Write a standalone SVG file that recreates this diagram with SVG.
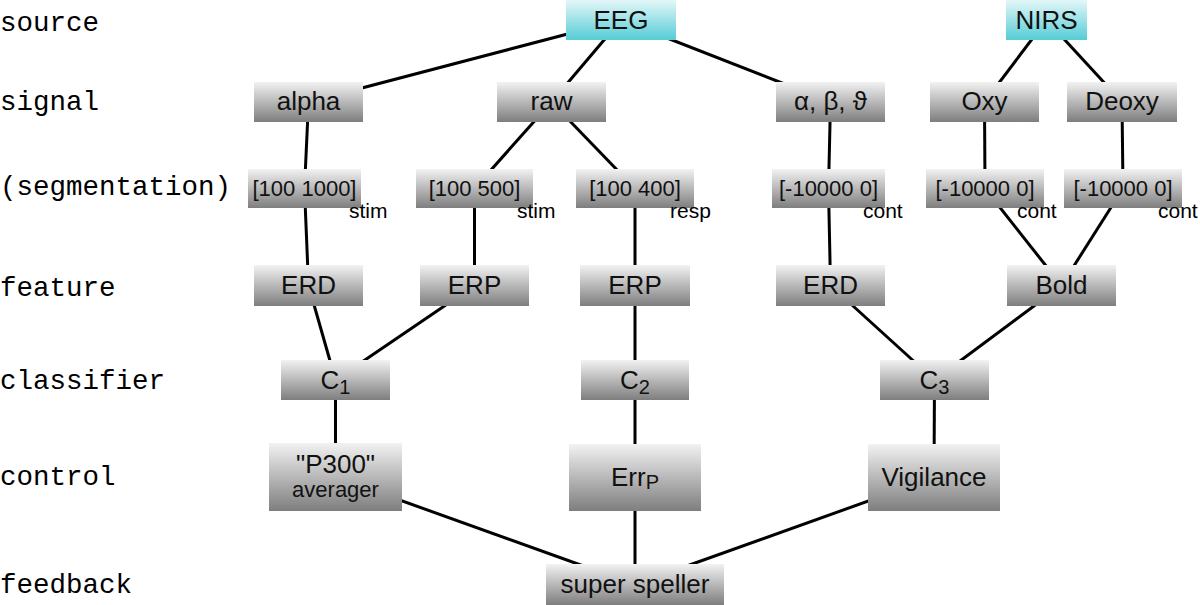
<svg xmlns="http://www.w3.org/2000/svg" width="1200" height="605" viewBox="0 0 1200 605">
<defs>
<linearGradient id="g" x1="0" y1="0" x2="0" y2="1">
<stop offset="0" stop-color="#f2f2f2"/>
<stop offset="1" stop-color="#7e7e7e"/>
</linearGradient>
<linearGradient id="c" x1="0" y1="0" x2="0" y2="1">
<stop offset="0" stop-color="#e4f7f9"/>
<stop offset="1" stop-color="#55ccd5"/>
</linearGradient>
</defs>
<style>
.lbl{font-family:"Liberation Mono","Courier New",monospace;font-size:27.5px;fill:#000}
.n rect{fill:url(#g)}
.s rect{fill:url(#c)}
.t{font-family:"Liberation Sans",Arial,Helvetica,sans-serif;font-size:26px;fill:#111;text-anchor:middle}
.sm{font-family:"Liberation Sans",Arial,Helvetica,sans-serif;font-size:22px;fill:#111;text-anchor:middle}
.an{font-family:"Liberation Sans",Arial,Helvetica,sans-serif;font-size:21px;fill:#000}
.sub{font-size:20px}
#edges line{stroke:#000;stroke-width:3}
</style>
<rect width="1200" height="605" fill="#fff"/>
<g id="row-labels">
<text class="lbl" x="0" y="31">source</text>
<text class="lbl" x="0" y="110">signal</text>
<text class="lbl" x="0" y="195">(segmentation)</text>
<text class="lbl" x="0" y="296">feature</text>
<text class="lbl" x="0" y="389">classifier</text>
<text class="lbl" x="0" y="485">control</text>
<text class="lbl" x="0" y="593">feedback</text>
</g>
<g id="edges">
<line x1="621" y1="20" x2="308.5" y2="102"/>
<line x1="621" y1="20" x2="551.5" y2="102"/>
<line x1="621" y1="20" x2="830.5" y2="102"/>
<line x1="1046.5" y1="20" x2="984.5" y2="102"/>
<line x1="1046.5" y1="20" x2="1122" y2="102"/>
<line x1="308.5" y1="102" x2="304.5" y2="188.5"/>
<line x1="551.5" y1="102" x2="474.5" y2="188.5"/>
<line x1="551.5" y1="102" x2="635" y2="188.5"/>
<line x1="830.5" y1="102" x2="828.5" y2="188.5"/>
<line x1="984.5" y1="102" x2="985" y2="188.5"/>
<line x1="1122" y1="102" x2="1123" y2="188.5"/>
<line x1="304.5" y1="188.5" x2="308.5" y2="285.5"/>
<line x1="474.5" y1="188.5" x2="474.5" y2="285.5"/>
<line x1="635" y1="188.5" x2="635" y2="285.5"/>
<line x1="828.5" y1="188.5" x2="830.5" y2="285.5"/>
<line x1="985" y1="188.5" x2="1061.5" y2="285.5"/>
<line x1="1123" y1="188.5" x2="1061.5" y2="285.5"/>
<line x1="308.5" y1="285.5" x2="335.5" y2="380"/>
<line x1="474.5" y1="285.5" x2="335.5" y2="380"/>
<line x1="635" y1="285.5" x2="635" y2="380"/>
<line x1="830.5" y1="285.5" x2="934.5" y2="380"/>
<line x1="1061.5" y1="285.5" x2="934.5" y2="380"/>
<line x1="335.5" y1="380" x2="335.5" y2="477"/>
<line x1="635" y1="380" x2="635" y2="477.5"/>
<line x1="934.5" y1="380" x2="934" y2="477.5"/>
<line x1="335.5" y1="477" x2="635" y2="584.5"/>
<line x1="635" y1="477.5" x2="635" y2="584.5"/>
<line x1="934" y1="477.5" x2="635" y2="584.5"/>
</g>
<g id="eeg" class="s"><rect x="566" y="0" width="110" height="40"/><text class="t" x="621" y="29">EEG</text></g>
<g id="nirs" class="s"><rect x="1006" y="0" width="81" height="40"/><text class="t" x="1046.5" y="29">NIRS</text></g>
<g id="alpha" class="n"><rect x="254" y="82" width="109" height="40"/><text class="t" x="308.5" y="110">alpha</text></g>
<g id="raw" class="n"><rect x="497" y="82" width="109" height="40"/><text class="t" x="551.5" y="110">raw</text></g>
<g id="abt" class="n"><rect x="776" y="82" width="109" height="40"/><text class="t" x="830.5" y="110">α, β, ϑ</text></g>
<g id="oxy" class="n"><rect x="930" y="82" width="109" height="40"/><text class="t" x="984.5" y="110">Oxy</text></g>
<g id="deoxy" class="n"><rect x="1067" y="82" width="110" height="40"/><text class="t" x="1122" y="110">Deoxy</text></g>
<g id="seg1" class="n"><rect x="248" y="169" width="113" height="39"/><text class="sm" x="304.5" y="196">[100 1000]</text><text class="an" x="349" y="218">stim</text></g>
<g id="seg2" class="n"><rect x="416" y="169" width="117" height="39"/><text class="sm" x="474.5" y="196">[100 500]</text><text class="an" x="517" y="218">stim</text></g>
<g id="seg3" class="n"><rect x="576" y="169" width="118" height="39"/><text class="sm" x="635" y="196">[100 400]</text><text class="an" x="670" y="218">resp</text></g>
<g id="seg4" class="n"><rect x="772" y="169" width="113" height="39"/><text class="sm" x="828.5" y="196">[-10000 0]</text><text class="an" x="863" y="218">cont</text></g>
<g id="seg5" class="n"><rect x="926" y="169" width="118" height="39"/><text class="sm" x="985" y="196">[-10000 0]</text><text class="an" x="1017" y="218">cont</text></g>
<g id="seg6" class="n"><rect x="1064" y="169" width="118" height="39"/><text class="sm" x="1123" y="196">[-10000 0]</text><text class="an" x="1158" y="218">cont</text></g>
<g id="erd1" class="n"><rect x="254" y="265" width="109" height="41"/><text class="t" x="308.5" y="294">ERD</text></g>
<g id="erp1" class="n"><rect x="420" y="265" width="109" height="41"/><text class="t" x="474.5" y="294">ERP</text></g>
<g id="erp2" class="n"><rect x="580" y="265" width="110" height="41"/><text class="t" x="635" y="294">ERP</text></g>
<g id="erd2" class="n"><rect x="776" y="265" width="109" height="41"/><text class="t" x="830.5" y="294">ERD</text></g>
<g id="bold" class="n"><rect x="1007" y="265" width="109" height="41"/><text class="t" x="1061.5" y="294">Bold</text></g>
<g id="c1" class="n"><rect x="281" y="360" width="109" height="40"/><text class="t" x="335.5" y="389">C<tspan class="sub" dy="5">1</tspan></text></g>
<g id="c2" class="n"><rect x="581" y="360" width="108" height="40"/><text class="t" x="635" y="389">C<tspan class="sub" dy="5">2</tspan></text></g>
<g id="c3" class="n"><rect x="880" y="360" width="109" height="40"/><text class="t" x="934.5" y="389">C<tspan class="sub" dy="5">3</tspan></text></g>
<g id="p300" class="n"><rect x="269" y="443" width="133" height="68"/><text class="t" x="335.5" y="473">"P300"</text><text class="sm" x="335.5" y="497">averager</text></g>
<g id="errp" class="n"><rect x="569" y="444" width="132" height="67"/><text class="t" x="635" y="486">Err<tspan class="sub" dy="3">P</tspan></text></g>
<g id="vigilance" class="n"><rect x="868" y="444" width="132" height="67"/><text class="t" x="934" y="486">Vigilance</text></g>
<g id="speller" class="n"><rect x="546" y="564" width="178" height="41"/><text class="t" x="635" y="593">super speller</text></g>
</svg>
